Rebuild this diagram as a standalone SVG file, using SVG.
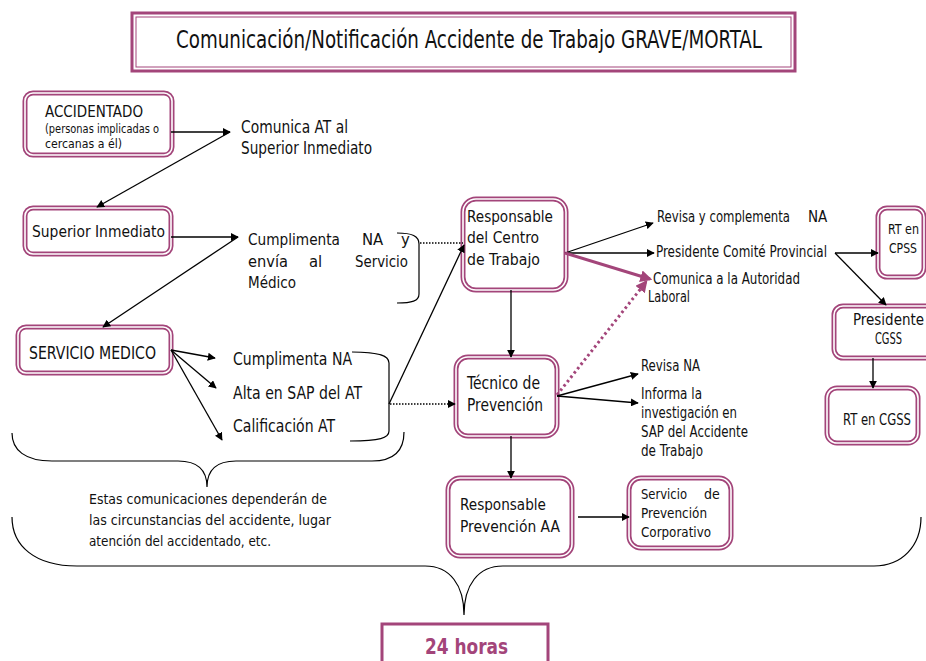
<svg xmlns="http://www.w3.org/2000/svg" width="926" height="661" viewBox="0 0 926 661">
<style>
text{font-family:"DejaVu Sans Condensed","Liberation Sans",Arial,sans-serif;fill:#111}
.b{fill:#fff;stroke:#a3457a;stroke-width:5}
.bi{fill:none;stroke:#fff;stroke-width:1.6}
.ln{fill:none;stroke:#000;stroke-width:1.3}
.dot{fill:none;stroke:#000;stroke-width:1.3;stroke-dasharray:1.5 1.5}
.br{fill:none;stroke:#000;stroke-width:1.2}
.f18{font-size:17.5px}
.f17{font-size:16.5px}
.f15{font-size:15px}
.f14{font-size:14px}
.f13{font-size:13px}
.f12{font-size:12px}
</style>
<defs>
<marker id="ah" viewBox="0 0 10 10" refX="9" refY="5" markerWidth="8" markerHeight="8" markerUnits="userSpaceOnUse" orient="auto"><path d="M0,0 L10,5 L0,10 z" fill="#000"/></marker>
<marker id="ahp" viewBox="0 0 10 10" refX="8" refY="5" markerWidth="4" markerHeight="4" orient="auto"><path d="M0,0 L10,5 L0,10 z" fill="#a3457a"/></marker>
</defs>

<g id="title">
<rect x="132" y="13" width="663" height="58" fill="#fff" stroke="#a3457a" stroke-width="3"/>
<rect x="136" y="17" width="655" height="50" fill="none" stroke="#a3457a" stroke-width="1"/>
<text x="176" y="48" font-size="24.5" textLength="586" lengthAdjust="spacingAndGlyphs">Comunicación/Notificación Accidente de Trabajo GRAVE/MORTAL</text>
</g>

<g id="accidentado">
<rect class="b" x="25" y="93" width="147" height="62" rx="8"/><rect class="bi" x="25" y="93" width="147" height="62" rx="8"/>
<text class="f17" x="45" y="117" textLength="98" lengthAdjust="spacingAndGlyphs">ACCIDENTADO</text>
<text class="f12" x="45" y="133" textLength="114" lengthAdjust="spacingAndGlyphs">(personas implicadas o</text>
<text class="f12" x="45" y="148" textLength="77" lengthAdjust="spacingAndGlyphs">cercanas a él)</text>
</g>
<g id="comunica-at">
<text class="f18" x="241" y="133" textLength="107" lengthAdjust="spacingAndGlyphs">Comunica AT al</text>
<text class="f18" x="241" y="154" textLength="131" lengthAdjust="spacingAndGlyphs">Superior Inmediato</text>
</g>

<g id="superior">
<rect class="b" x="25" y="208" width="146" height="46" rx="8"/><rect class="bi" x="25" y="208" width="146" height="46" rx="8"/>
<text class="f17" x="32" y="237" textLength="133" lengthAdjust="spacingAndGlyphs">Superior Inmediato</text>
</g>
<g id="cumplimenta-envia">
<text class="f17" x="248" y="245"><tspan textLength="92" lengthAdjust="spacingAndGlyphs">Cumplimenta</tspan><tspan x="362">NA</tspan><tspan x="401">y</tspan></text>
<text class="f17" x="248" y="267"><tspan textLength="40" lengthAdjust="spacingAndGlyphs">envía</tspan><tspan x="309">al</tspan><tspan x="355" textLength="53" lengthAdjust="spacingAndGlyphs">Servicio</tspan></text>
<text class="f17" x="248" y="288" textLength="48" lengthAdjust="spacingAndGlyphs">Médico</text>
</g>

<g id="servicio-medico">
<rect class="b" x="18" y="327" width="153" height="46" rx="8"/><rect class="bi" x="18" y="327" width="153" height="46" rx="8"/>
<text class="f18" x="29" y="359" textLength="127" lengthAdjust="spacingAndGlyphs">SERVICIO MEDICO</text>
</g>
<g id="sm-tareas">
<text class="f18" x="233" y="365" textLength="119" lengthAdjust="spacingAndGlyphs">Cumplimenta NA</text>
<text class="f18" x="233" y="399" textLength="129" lengthAdjust="spacingAndGlyphs">Alta en SAP del AT</text>
<text class="f18" x="233" y="432" textLength="102" lengthAdjust="spacingAndGlyphs">Calificación AT</text>
</g>

<g id="nota">
<text class="f14" x="89" y="504" textLength="238" lengthAdjust="spacingAndGlyphs">Estas comunicaciones dependerán de</text>
<text class="f14" x="89" y="525" textLength="242" lengthAdjust="spacingAndGlyphs">las circunstancias del accidente, lugar</text>
<text class="f14" x="89" y="546" textLength="182" lengthAdjust="spacingAndGlyphs">atención del accidentado, etc.</text>
</g>

<g id="responsable-centro">
<rect class="b" x="463" y="199" width="103" height="91" rx="13"/><rect class="bi" x="463" y="199" width="103" height="91" rx="13"/>
<text class="f17" x="467" y="222" textLength="86" lengthAdjust="spacingAndGlyphs">Responsable</text>
<text class="f17" x="467" y="243" textLength="72" lengthAdjust="spacingAndGlyphs">del Centro</text>
<text class="f17" x="467" y="265" textLength="73" lengthAdjust="spacingAndGlyphs">de Trabajo</text>
</g>
<g id="rc-tareas">
<text class="f15" x="657" y="222"><tspan textLength="133" lengthAdjust="spacingAndGlyphs">Revisa y complementa</tspan><tspan x="808">NA</tspan></text>
<text class="f15" x="656" y="257" textLength="171" lengthAdjust="spacingAndGlyphs">Presidente Comité Provincial</text>
<text class="f15" x="653" y="284" textLength="147" lengthAdjust="spacingAndGlyphs">Comunica a la Autoridad</text>
<text class="f15" x="648" y="302" textLength="42" lengthAdjust="spacingAndGlyphs">Laboral</text>
</g>

<g id="tecnico">
<rect class="b" x="456" y="357" width="101" height="79" rx="12"/><rect class="bi" x="456" y="357" width="101" height="79" rx="12"/>
<text class="f18" x="467" y="389" textLength="73" lengthAdjust="spacingAndGlyphs">Técnico de</text>
<text class="f18" x="467" y="411" textLength="76" lengthAdjust="spacingAndGlyphs">Prevención</text>
</g>
<g id="tp-tareas">
<text class="f15" x="641" y="371" textLength="59" lengthAdjust="spacingAndGlyphs">Revisa NA</text>
<text class="f15" x="641" y="399" textLength="61" lengthAdjust="spacingAndGlyphs">Informa la</text>
<text class="f15" x="641" y="418" textLength="96" lengthAdjust="spacingAndGlyphs">investigación en</text>
<text class="f15" x="641" y="437" textLength="107" lengthAdjust="spacingAndGlyphs">SAP del Accidente</text>
<text class="f15" x="641" y="456" textLength="62" lengthAdjust="spacingAndGlyphs">de Trabajo</text>
</g>

<g id="responsable-aa">
<rect class="b" x="448" y="478" width="124" height="78" rx="12"/><rect class="bi" x="448" y="478" width="124" height="78" rx="12"/>
<text class="f17" x="460" y="510" textLength="86" lengthAdjust="spacingAndGlyphs">Responsable</text>
<text class="f17" x="460" y="532" textLength="100" lengthAdjust="spacingAndGlyphs">Prevención AA</text>
</g>

<g id="servicio-prevencion">
<rect class="b" x="629" y="478" width="102" height="70" rx="12"/><rect class="bi" x="629" y="478" width="102" height="70" rx="12"/>
<text class="f14" x="641" y="499"><tspan textLength="46" lengthAdjust="spacingAndGlyphs">Servicio</tspan><tspan x="704">de</tspan></text>
<text class="f14" x="641" y="518" textLength="66" lengthAdjust="spacingAndGlyphs">Prevención</text>
<text class="f14" x="641" y="537" textLength="70" lengthAdjust="spacingAndGlyphs">Corporativo</text>
</g>

<g id="rt-cpss">
<rect class="b" x="878" y="208" width="46" height="69" rx="9"/><rect class="bi" x="878" y="208" width="46" height="69" rx="9"/>
<text class="f14" x="888" y="234" textLength="31" lengthAdjust="spacingAndGlyphs">RT en</text>
<text class="f14" x="889" y="253" textLength="28" lengthAdjust="spacingAndGlyphs">CPSS</text>
</g>

<g id="presidente-cgss">
<rect class="b" x="834" y="306" width="110" height="52" rx="9"/><rect class="bi" x="834" y="306" width="110" height="52" rx="9"/>
<text class="f15" x="853" y="325" textLength="71" lengthAdjust="spacingAndGlyphs">Presidente</text>
<text class="f15" x="875" y="344" textLength="27" lengthAdjust="spacingAndGlyphs">CGSS</text>
</g>

<g id="rt-cgss">
<rect class="b" x="827" y="388" width="91" height="55" rx="10"/><rect class="bi" x="827" y="388" width="91" height="55" rx="10"/>
<text class="f17" x="843" y="425" textLength="68" lengthAdjust="spacingAndGlyphs">RT en CGSS</text>
</g>

<g id="plazo">
<rect x="382" y="624" width="166" height="45" fill="#fff" stroke="#a3457a" stroke-width="3"/>
<text x="425" y="654" font-size="22" font-weight="bold" style="fill:#a3457a" textLength="83" lengthAdjust="spacingAndGlyphs">24 horas</text>
</g>

<g id="connectors">
<path class="ln" d="M171,132 L230,132" marker-end="url(#ah)"/>
<path class="ln" d="M230,132 L97,207" marker-end="url(#ah)"/>
<path class="ln" d="M171,237 L238,237" marker-end="url(#ah)"/>
<path class="ln" d="M238,237 L103,327" marker-end="url(#ah)"/>
<path class="ln" d="M171,350 L215,358" marker-end="url(#ah)"/>
<path class="ln" d="M171,350 L216,388" marker-end="url(#ah)"/>
<path class="ln" d="M171,350 L222,440" marker-end="url(#ah)"/>
<path class="br" d="M397,233 C412,233 419,236 419,244 L419,294 C419,301 412,303 397,303"/>
<path class="br" d="M352,352 C380,352 389,356 389,363 L389,431 C389,438 380,441 350,441"/>
<path class="dot" d="M420,243 L463,243"/>
<path class="ln" d="M389,404 L464,245" marker-end="url(#ah)"/>
<path class="dot" d="M390,404 L455,404" marker-end="url(#ah)"/>
<path class="ln" d="M565,253 L653,223" marker-end="url(#ah)"/>
<path class="ln" d="M565,253 L654,253" marker-end="url(#ah)"/>
<path d="M565,253 L650,279" fill="none" stroke="#a3457a" stroke-width="3" marker-end="url(#ahp)"/>
<path d="M557,395 L646,282" fill="none" stroke="#a3457a" stroke-width="3" stroke-dasharray="2.5 3" marker-end="url(#ahp)"/>
<path class="ln" d="M511,290 L511,357" marker-end="url(#ah)"/>
<path class="ln" d="M557,396 L638,374" marker-end="url(#ah)"/>
<path class="ln" d="M557,396 L638,403" marker-end="url(#ah)"/>
<path class="ln" d="M511,436 L511,478" marker-end="url(#ah)"/>
<path class="ln" d="M578,517 L629,517" marker-end="url(#ah)"/>
<path class="ln" d="M835,253 L878,253" marker-end="url(#ah)"/>
<path class="ln" d="M835,253 L886,305" marker-end="url(#ah)"/>
<path class="ln" d="M873,358 L873,388" marker-end="url(#ah)"/>
<path class="br" d="M12,433 C12,450 25,461 52,461 L178,461 C198,461 207,470 207,487 C207,470 216,461 236,461 L372,461 C394,461 404,450 404,432"/>
<path class="br" d="M12,517 C12,546 35,566 77,566 L425,566 C450,566 464,585 464,615 C464,585 478,566 503,566 L874,566 C902,566 921,546 921,517"/>
</g>
</svg>
